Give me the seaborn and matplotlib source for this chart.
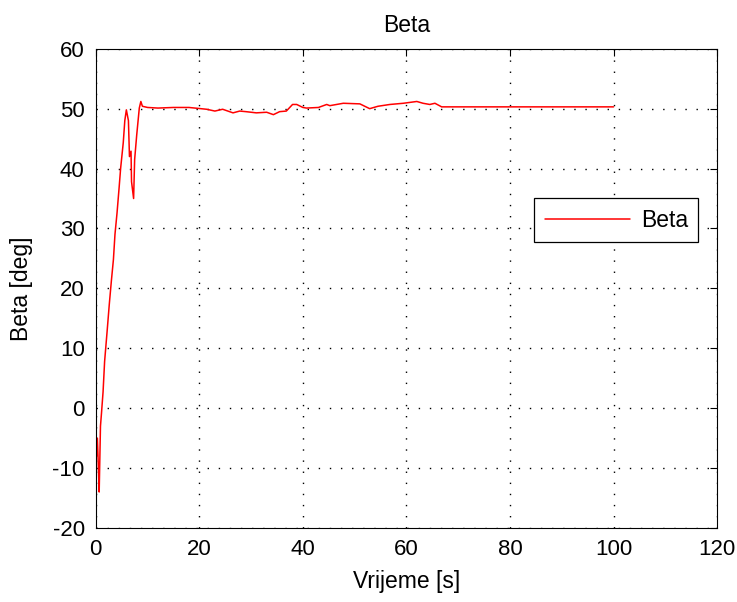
import numpy as np
import pandas as pd
import matplotlib
matplotlib.use("Agg")
import matplotlib.pyplot as plt
import seaborn as sns

# values
vrijeme = [0.0, 0.1, 0.3, 0.5, 0.65, 0.9, 1.1, 1.4, 1.7, 2.2, 2.6, 3.0, 3.4, 3.7,
           4.1, 4.5, 4.8, 5.3, 5.6, 5.9, 6.3, 6.5, 6.8, 6.9, 7.3, 7.5, 7.9, 8.4,
           8.7, 9.0, 10.0, 12.0, 15.0, 18.0, 21.4, 23.0, 24.5, 26.5, 27.8, 29.0,
           31.0, 33.0, 34.3, 35.5, 36.8, 38.0, 38.8, 40.0, 40.7, 43.0, 44.6, 45.2,
           47.8, 51.0, 52.9, 54.5, 56.8, 59.4, 62.0, 63.2, 64.5, 65.5, 66.8, 80.0, 100.0]
beta = [-3.6, -8.1, -5.0, -10.0, -14.0, -3.0, -0.8, 2.7, 7.8, 13.0, 17.3, 21.2, 24.8, 29.0,
        32.6, 36.8, 40.1, 44.3, 48.0, 49.8, 48.0, 42.0, 42.9, 37.8, 35.0, 41.5, 45.6, 50.1,
        51.2, 50.4, 50.2, 50.1, 50.2, 50.2, 49.9, 49.6, 49.9, 49.3, 49.6, 49.5,
        49.3, 49.4, 49.0, 49.5, 49.6, 50.7, 50.7, 50.2, 50.1, 50.2, 50.7, 50.5,
        50.9, 50.8, 50.0, 50.4, 50.7, 50.9, 51.2, 50.9, 50.7, 50.9, 50.3, 50.3, 50.3]

df = pd.DataFrame({"Vrijeme": vrijeme, "Beta": beta})

sns.set_theme(style="white")
plt.rcParams["font.family"] = ["Liberation Sans", "DejaVu Sans"]
plt.rcParams["axes.unicode_minus"] = False
plt.rcParams["text.color"] = "black"
plt.rcParams["axes.labelcolor"] = "black"

fig = plt.figure(figsize=(7.37, 6.02), dpi=100)
ax = fig.add_axes([0.130, 0.123, 0.843, 0.796])

sns.lineplot(data=df, x="Vrijeme", y="Beta", ax=ax, color="red", linewidth=1.1,
             label="Beta")

ax.set_xlim(0, 120)
ax.set_ylim(-20, 60)
ax.set_xticks(np.arange(0, 121, 20))
ax.set_yticks(np.arange(-20, 61, 10))
ax.grid(True, color="black", linestyle=(0, (1, 7)), linewidth=1.0)
ax.tick_params(direction="in", length=5, top=True, right=True, labelsize=16,
               colors="black", width=0.8, pad=8)
for s in ax.spines.values():
    s.set_color("black")
    s.set_linewidth(0.8)

ax.set_xlabel("Vrijeme [s]", fontsize=16.5, labelpad=7)
ax.set_ylabel("Beta [deg]", fontsize=16.5, labelpad=14)
ax.set_title("Beta", fontsize=16.5, pad=12)

leg = ax.legend(loc="upper right", bbox_to_anchor=(0.97, 0.688), fontsize=16.5,
                fancybox=False, framealpha=1, edgecolor="black", handlelength=3.7,
                borderpad=0.45, handletextpad=0.5, borderaxespad=0)
leg.get_frame().set_linewidth(0.9)

fig.savefig("out.png", dpi=100, facecolor="white")
